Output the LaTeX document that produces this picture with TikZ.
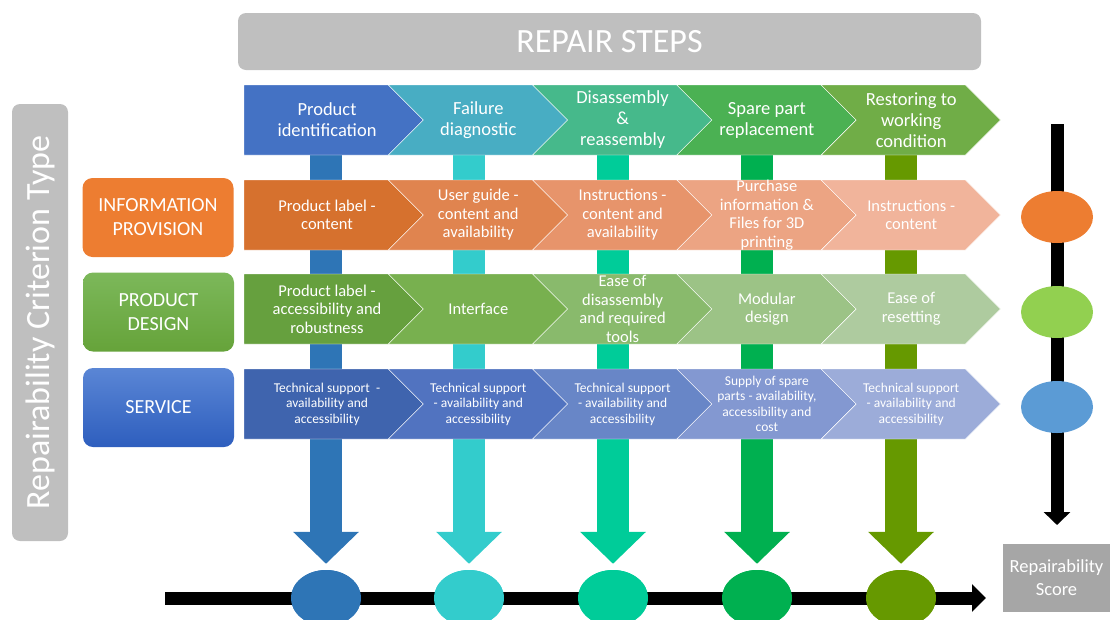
\documentclass[tikz,border=0pt]{standalone}
\usepackage{fontspec}
\setmainfont{Carlito}
\usepackage{xcolor}
\usetikzlibrary{positioning}
\usetikzlibrary{shapes, arrows.meta}

\definecolor{colA}{HTML}{2E75B6}
\definecolor{colB}{HTML}{33CCCC}
\definecolor{colC}{HTML}{00CC99}
\definecolor{colD}{HTML}{00B050}
\definecolor{colE}{HTML}{669900}
\definecolor{stA}{HTML}{4472C4}
\definecolor{stB}{HTML}{48ADC3}
\definecolor{stC}{HTML}{46B98B}
\definecolor{stD}{HTML}{4BB153}
\definecolor{stE}{HTML}{70AD47}
\definecolor{inA}{HTML}{D6712E}
\definecolor{inB}{HTML}{E0844F}
\definecolor{inC}{HTML}{E7946B}
\definecolor{inD}{HTML}{ECA483}
\definecolor{inE}{HTML}{F1B49B}
\definecolor{dsA}{HTML}{66A03E}
\definecolor{dsB}{HTML}{78B04F}
\definecolor{dsC}{HTML}{89BA6C}
\definecolor{dsD}{HTML}{9CC386}
\definecolor{dsE}{HTML}{AECB9F}
\definecolor{svA}{HTML}{3F64AE}
\definecolor{svB}{HTML}{5173C0}
\definecolor{svC}{HTML}{6886C7}
\definecolor{svD}{HTML}{8398D1}
\definecolor{svE}{HTML}{9CACD9}
\definecolor{dotO}{HTML}{ED7D31}
\definecolor{dotG}{HTML}{92D050}
\definecolor{dotB}{HTML}{5B9BD5}
\definecolor{catGtop}{HTML}{7CB85A}
\definecolor{catGbot}{HTML}{66A33A}
\definecolor{catBtop}{HTML}{5A86D5}
\definecolor{catBbot}{HTML}{2E5EBE}
\definecolor{titlegray}{HTML}{BFBFBF}
\definecolor{scoregray}{HTML}{A6A6A6}

\begin{document}
\begin{tikzpicture}[x=1pt, y=-1pt,
	firstchev/.pic={\filldraw (0,0) -- (144.3,0) -- (179.3,35) -- (144.3,70) -- (0,70) -- cycle;},
	chev/.pic={\filldraw (0,0) -- (144.3,0) -- (179.3,35) -- (144.3,70) -- (0,70) -- (35,35) -- cycle;},
	steptxt/.style={text=white, align=center, font=\fontsize{18.5}{21}\selectfont},
	crittxt/.style={text=white, align=center, font=\fontsize{16.5}{18.5}\selectfont},
	servtxt/.style={text=white, align=center, font=\fontsize{13.5}{15.5}\selectfont},
	catbox/.style={rounded corners=10pt, minimum width=151, minimum height=79, text=white, align=center, font=\fontsize{20}{24}\selectfont},
	colarrow/.style={line width=32, -{Triangle[width=64pt,length=32pt]}, shorten >=6pt},
	blackarrow/.style={line width=13, -{Triangle[width=27pt,length=14pt]}},
	dot/.style={ellipse, minimum width=70, minimum height=56, inner sep=0pt}]
	\useasboundingbox (0,0) rectangle (1110,619);

	\node[fill=titlegray, rounded corners=8pt, minimum width=743, minimum height=57, text=white, font=\fontsize{34}{40}\selectfont] (title) at (609.5,41.5) {REPAIR STEPS};
	\node[fill=titlegray, rounded corners=8pt, rotate=90, minimum width=437, minimum height=56, text=white, font=\fontsize{34}{38}\selectfont] (crit) at (40,322.5) {Repairability Criterion Type};

	% columns running down to the score line
	\coordinate (ta) at (326,150); \coordinate (tb) at (469,150); \coordinate (tc) at (613,150);
	\coordinate (td) at (757,150); \coordinate (te) at (901,150);
	\node[dot, fill=colA] (ea) at (326,598) {};
	\node[dot, fill=colB] (eb) at (469,598) {};
	\node[dot, fill=colC] (ec) at (613,598) {};
	\node[dot, fill=colD] (ed) at (757,598) {};
	\node[dot, fill=colE] (ee) at (901,598) {};
	\draw[colarrow, draw=colA] (ta) -- (ea.north);
	\draw[colarrow, draw=colB] (tb) -- (eb.north);
	\draw[colarrow, draw=colC] (tc) -- (ec.north);
	\draw[colarrow, draw=colD] (td) -- (ed.north);
	\draw[colarrow, draw=colE] (te) -- (ee.north);

	\coordinate (hs) at (165,598);
	\coordinate (he) at (986,598);
	\draw[blackarrow] (hs) -- (he);
	\node[dot, fill=colA] at (ea) {};
	\node[dot, fill=colB] at (eb) {};
	\node[dot, fill=colC] at (ec) {};
	\node[dot, fill=colD] at (ed) {};
	\node[dot, fill=colE] at (ee) {};
	\node[fill=scoregray, minimum width=107, minimum height=68, inner sep=1pt, text=white, align=center, font=\fontsize{18.5}{23}\selectfont] (score) at (1056.5,578) {Repairability\\Score};

	% repair steps
	\pic[fill=stA, draw=white] at (244,85) {firstchev};
	\pic[fill=stB, draw=white] at (388.3,85) {chev};
	\pic[fill=stC, draw=white] at (532.6,85) {chev};
	\pic[fill=stD, draw=white] at (676.9,85) {chev};
	\pic[fill=stE, draw=white] at (821.2,85) {chev};
	\node[steptxt] (sa) at (327,120) {Product\\identification};
	\node[steptxt] (sb) at (478.3,120) {Failure\\diagnostic};
	\node[steptxt] (sc) at (622.6,120) {Disassembly\\\&\\reassembly};
	\node[steptxt] (sd) at (766.9,120) {Spare part\\replacement};
	\node[steptxt] (se) at (911.2,120) {Restoring to\\working\\condition};

	% information provision
	\pic[fill=inA, draw=white] at (244,180) {firstchev};
	\pic[fill=inB, draw=white] at (388.3,180) {chev};
	\pic[fill=inC, draw=white] at (532.6,180) {chev};
	\pic[fill=inD, draw=white] at (676.9,180) {chev};
	\pic[fill=inE, draw=white] at (821.2,180) {chev};
	\node[crittxt] (ia) at (327,215) {Product label -\\content};
	\node[crittxt] (ib) at (478.3,215) {User guide -\\content and\\availability};
	\node[crittxt] (ic) at (622.6,215) {Instructions -\\content and\\availability};
	\node[crittxt] (id) at (766.9,215) {Purchase\\information \&\\Files for 3D\\printing};
	\node[crittxt] (ie) at (911.2,215) {Instructions -\\content};

	% product design
	\pic[fill=dsA, draw=white] at (244,274) {firstchev};
	\pic[fill=dsB, draw=white] at (388.3,274) {chev};
	\pic[fill=dsC, draw=white] at (532.6,274) {chev};
	\pic[fill=dsD, draw=white] at (676.9,274) {chev};
	\pic[fill=dsE, draw=white] at (821.2,274) {chev};
	\node[crittxt] (da) at (327,309) {Product label -\\accessibility and\\robustness};
	\node[crittxt] (db) at (478.3,309) {Interface};
	\node[crittxt] (dc) at (622.6,309) {Ease of\\disassembly\\and required\\tools};
	\node[crittxt] (dd) at (766.9,309) {Modular\\design};
	\node[crittxt] (de) at (911.2,309) {Ease of\\resetting};

	% service
	\pic[fill=svA, draw=white] at (244,369) {firstchev};
	\pic[fill=svB, draw=white] at (388.3,369) {chev};
	\pic[fill=svC, draw=white] at (532.6,369) {chev};
	\pic[fill=svD, draw=white] at (676.9,369) {chev};
	\pic[fill=svE, draw=white] at (821.2,369) {chev};
	\node[servtxt] (va) at (327,404) {Technical support~ -\\availability and\\accessibility};
	\node[servtxt] (vb) at (478.3,404) {Technical support\\- availability and\\accessibility};
	\node[servtxt] (vc) at (622.6,404) {Technical support\\- availability and\\accessibility};
	\node[servtxt] (vd) at (766.9,404) {Supply of spare\\parts - availability,\\accessibility and\\cost};
	\node[servtxt] (ve) at (911.2,404) {Technical support\\- availability and\\accessibility};

	% criterion types
	\node[catbox, fill=dotO] (info) at (158,217.5) {INFORMATION\\PROVISION};
	\node[catbox, top color=catGtop, bottom color=catGbot] (design) at (158.5,312) {PRODUCT\\DESIGN};
	\node[catbox, top color=catBtop, bottom color=catBbot] (serv) at (158.5,407.5) {SERVICE};

	% score per criterion
	\coordinate (vs) at (1057,124);
	\coordinate (vt) at (1057,525);
	\draw[line width=13, -{Triangle[width=26pt,length=13pt]}] (vs) -- (vt);
	\node[ellipse, fill=dotO, minimum width=72, minimum height=52] (ro) at (1057,217) {};
	\node[ellipse, fill=dotG, minimum width=72, minimum height=52] (rg) at (1057,312) {};
	\node[ellipse, fill=dotB, minimum width=72, minimum height=52] (rb) at (1057,407) {};
\end{tikzpicture}
\end{document}
